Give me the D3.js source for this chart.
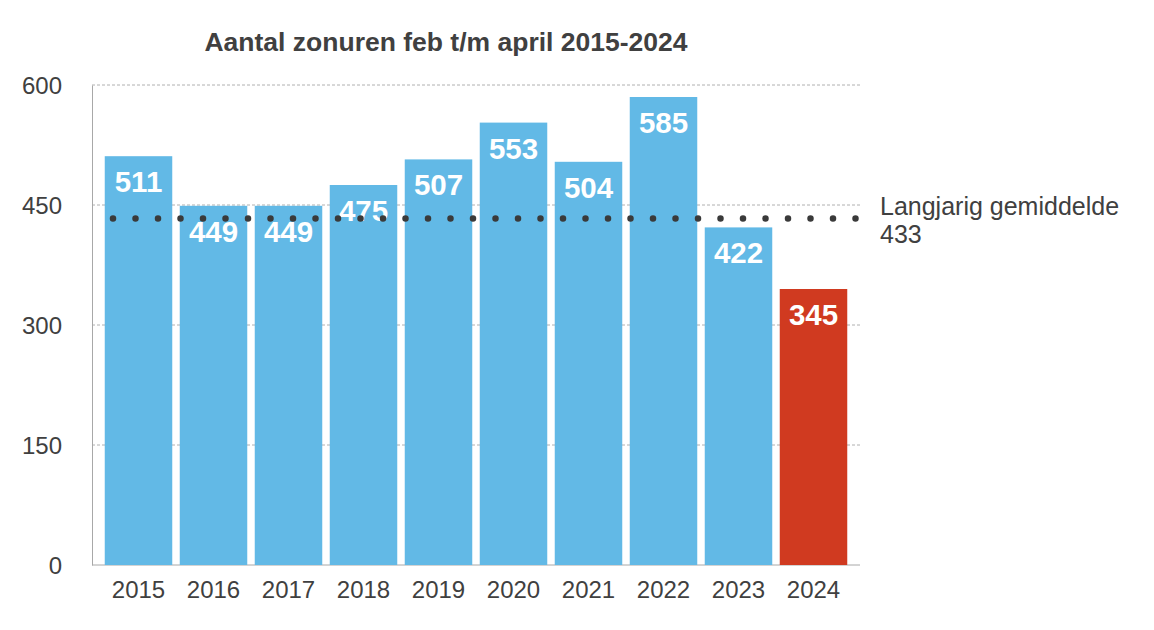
<!DOCTYPE html>
<html>
<head>
<meta charset="utf-8">
<script src="https://cdn.jsdelivr.net/npm/d3@7"></script>
<style>
  body { margin: 0; background: #fff; }
  svg text { font-family: "Liberation Sans", Arial, sans-serif; }
</style>
</head>
<body>
<svg id="chart" width="1154" height="630"></svg>
<script>
// data
const years = ["2015", "2016", "2017", "2018", "2019", "2020", "2021", "2022", "2023", "2024"];
const hours = [511, 449, 449, 475, 507, 553, 504, 585, 422, 345];
const yTicks = [0, 150, 300, 450, 600];
const average = 433;
const averageLabel = ["Langjarig gemiddelde", "433"];
const title = "Aantal zonuren feb t/m april 2015-2024";

const width = 1154, height = 630;
const plot = { left: 92, right: 860, top: 85, bottom: 565 };

const svg = d3.select('#chart');

const x = d3.scaleBand()
  .domain(years)
  .range([101, 851])
  .paddingInner(0.1)
  .paddingOuter(0.05);

const y = d3.scaleLinear()
  .domain([0, 600])
  .range([plot.bottom, plot.top]);

// title
svg.append('text')
  .attr('x', 446)
  .attr('y', 51)
  .attr('text-anchor', 'middle')
  .attr('font-size', 26.5)
  .attr('font-weight', 'bold')
  .attr('fill', '#404040')
  .text(title);

// dashed grid lines (behind bars)
svg.append('g')
  .selectAll('line')
  .data(yTicks.filter(d => d > 0))
  .enter()
  .append('line')
  .attr('x1', plot.left)
  .attr('x2', plot.right)
  .attr('y1', d => y(d))
  .attr('y2', d => y(d))
  .attr('stroke', '#b0b0b0')
  .attr('stroke-width', 1)
  .attr('stroke-dasharray', '3 2');

// y axis
const yAxis = svg.append('g')
  .attr('transform', `translate(${plot.left},0)`)
  .call(d3.axisLeft(y).tickValues(yTicks).tickSize(0).tickPadding(30));
yAxis.select('.domain').attr('stroke', '#a8a8a8');
yAxis.selectAll('text')
  .attr('font-size', 24)
  .attr('fill', '#404040')
  .attr('dy', '0.36em');

// x axis
const xAxis = svg.append('g')
  .attr('transform', `translate(0,${plot.bottom})`)
  .call(d3.axisBottom(x).tickSize(0).tickPadding(16));
xAxis.select('.domain')
  .attr('d', `M${plot.left},0H${plot.right}`)
  .attr('stroke', '#a8a8a8');
xAxis.selectAll('text')
  .attr('font-size', 24)
  .attr('fill', '#404040');

// bars
svg.append('g')
  .selectAll('rect')
  .data(hours)
  .enter()
  .append('rect')
  .attr('x', (d, i) => x(years[i]))
  .attr('width', x.bandwidth())
  .attr('y', d => y(d))
  .attr('height', d => plot.bottom - y(d))
  .attr('fill', (d, i) => years[i] === "2024" ? '#d03a20' : '#62b9e6');

// value labels
svg.append('g')
  .selectAll('text')
  .data(hours)
  .enter()
  .append('text')
  .attr('x', (d, i) => x(years[i]) + x.bandwidth() / 2)
  .attr('y', d => y(d) + 36)
  .attr('text-anchor', 'middle')
  .attr('font-size', 29.5)
  .attr('font-weight', 'bold')
  .attr('fill', '#fff')
  .text(d => d);

// long-term average, dotted
svg.append('line')
  .attr('x1', 113)
  .attr('x2', 856)
  .attr('y1', y(average))
  .attr('y2', y(average))
  .attr('stroke', '#3a3a3a')
  .attr('stroke-width', 6.5)
  .attr('stroke-linecap', 'round')
  .attr('stroke-dasharray', '0 22.5');

svg.append('text')
  .attr('x', 880)
  .attr('y', 215)
  .attr('font-size', 25)
  .attr('fill', '#404040')
  .selectAll('tspan')
  .data(averageLabel)
  .enter()
  .append('tspan')
  .attr('x', 880)
  .attr('dy', (d, i) => i === 0 ? 0 : 28)
  .text(d => d);
</script>
</body>
</html>
